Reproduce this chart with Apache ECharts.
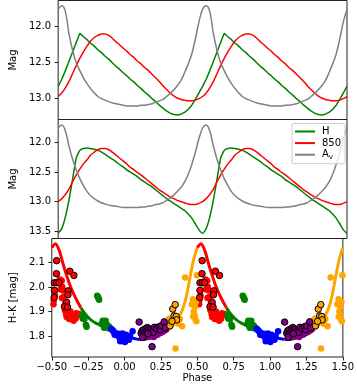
<!DOCTYPE html>
<html><head><meta charset="utf-8">
<script src="https://cdn.jsdelivr.net/npm/echarts@6/dist/echarts.min.js"></script>
<style>html,body{margin:0;padding:0;background:#fff}#c{width:357px;height:384px}</style>
</head><body><div id="c"></div>
<script>
// ---- one pulsation cycle, phase -0.5 .. 0.5 (plotted at phase and phase+1) ----
const phase = [-0.500,-0.475,-0.450,-0.425,-0.400,-0.375,-0.350,-0.325,-0.300,-0.275,-0.250,-0.225,-0.200,-0.175,-0.150,-0.125,-0.100,-0.075,-0.050,-0.025,0.000,0.025,0.050,0.075,0.100,0.125,0.150,0.175,0.200,0.225,0.250,0.275,0.300,0.325,0.350,0.375,0.400,0.425,0.450,0.475,0.500];

// top panel
const hTop    = [12.83,12.73,12.61,12.48,12.35,12.22,12.09,12.14,12.18,12.23,12.27,12.32,12.36,12.41,12.45,12.50,12.55,12.59,12.64,12.68,12.73,12.77,12.82,12.86,12.91,12.95,13.00,13.04,13.09,13.13,13.17,13.20,13.22,13.225,13.215,13.19,13.15,13.09,13.01,12.92,12.83];
const r850Top = [12.97,12.92,12.85,12.76,12.65,12.54,12.44,12.35,12.27,12.20,12.15,12.12,12.10,12.10,12.12,12.16,12.21,12.25,12.30,12.34,12.39,12.43,12.48,12.52,12.57,12.61,12.66,12.71,12.76,12.82,12.87,12.92,12.96,12.99,13.01,13.02,13.03,13.03,13.02,13.00,12.97];
const avTop   = [11.76,11.71,11.79,12.10,12.33,12.50,12.61,12.71,12.79,12.86,12.92,12.97,13.00,13.02,13.04,13.06,13.07,13.08,13.09,13.10,13.10,13.10,13.10,13.09,13.09,13.08,13.07,13.05,13.03,13.01,12.97,12.93,12.88,12.82,12.75,12.64,12.52,12.38,12.17,11.93,11.76];

// middle panel
const hMid    = [13.54,13.46,13.26,12.97,12.62,12.26,12.13,12.10,12.09,12.10,12.11,12.13,12.16,12.20,12.24,12.28,12.32,12.37,12.41,12.46,12.50,12.54,12.58,12.63,12.67,12.71,12.75,12.80,12.85,12.90,12.95,12.99,13.03,13.07,13.11,13.15,13.21,13.28,13.38,13.48,13.54];
const r850Mid = [13.00,12.95,12.88,12.79,12.66,12.55,12.45,12.36,12.29,12.21,12.16,12.12,12.10,12.10,12.12,12.16,12.21,12.26,12.31,12.36,12.42,12.46,12.51,12.55,12.60,12.65,12.70,12.75,12.80,12.84,12.88,12.92,12.95,12.98,13.00,13.02,13.04,13.05,13.05,13.03,13.00];
const avMid   = [11.75,11.70,11.80,12.06,12.28,12.46,12.61,12.73,12.83,12.90,12.95,12.99,13.02,13.04,13.06,13.07,13.08,13.09,13.10,13.10,13.10,13.10,13.10,13.09,13.09,13.08,13.07,13.05,13.04,13.02,12.98,12.94,12.89,12.83,12.76,12.67,12.54,12.37,12.16,11.93,11.75];

// bottom panel model curve H-K
const hkCurve = [2.160,2.176,2.150,2.099,2.050,2.007,1.972,1.942,1.915,1.893,1.876,1.863,1.854,1.847,1.839,1.830,1.822,1.815,1.808,1.803,1.799,1.795,1.792,1.789,1.786,1.786,1.788,1.791,1.794,1.799,1.806,1.814,1.824,1.838,1.856,1.880,1.910,1.962,2.040,2.112,2.160];
// colour segments of the curve: [first index, last index, colour]
const hkSegStart = [0, 8, 16, 24, 32];
const hkSegEnd   = [8, 16, 24, 32, 40];
const hkSegColor = ['#ff0000', '#008000', '#0000ff', '#800080', '#ffa500'];

// observed H-K points (phase, value), one cycle
const redPts = [[-0.488,1.930],[-0.487,1.945],[-0.478,1.965],[-0.445,2.030],[-0.432,2.025],[-0.428,2.000],[-0.420,1.985],[-0.418,1.960],[-0.410,1.905],[-0.402,1.890],[-0.398,1.878],[-0.385,1.895],[-0.372,1.900],[-0.368,1.884],[-0.360,1.872],[-0.350,1.862],[-0.345,1.880],[-0.332,1.893],[-0.322,1.886],[-0.312,1.890],[-0.440,1.990],[-0.430,1.955],[-0.406,1.935],[-0.380,1.870],[-0.336,1.872]];
const redEdgePts = [[-0.467,2.107],[-0.468,2.054],[-0.482,2.017],[-0.466,2.017],[-0.451,2.017],[-0.482,1.986],[-0.484,1.957],[-0.376,2.064],[-0.348,2.047],[-0.387,1.984],[-0.389,1.968],[-0.398,1.937],[-0.413,1.920],[-0.392,1.918]];
const greenPts = [[-0.292,1.885],[-0.283,1.878],[-0.276,1.870],[-0.288,1.872],[-0.266,1.846],[-0.261,1.838],[-0.188,1.964],[-0.182,1.958],[-0.175,1.948],[-0.178,1.952],[-0.156,1.850],[-0.150,1.862],[-0.146,1.845],[-0.141,1.856],[-0.136,1.840],[-0.131,1.852],[-0.126,1.838],[-0.121,1.846],[-0.116,1.833],[-0.111,1.841],[-0.106,1.836],[-0.140,1.834],[-0.130,1.862]];
const bluePts = [[-0.092,1.830],[-0.082,1.824],[-0.074,1.818],[-0.062,1.812],[-0.052,1.803],[-0.042,1.810],[-0.036,1.795],[-0.030,1.779],[-0.020,1.786],[-0.010,1.800],[0.000,1.795],[0.002,1.776],[0.010,1.806],[0.020,1.790],[0.038,1.800],[0.055,1.820],[-0.015,1.811],[0.030,1.785],[-0.005,1.788],[-0.068,1.806]];
const purplePts = [[0.150,1.800],[0.180,1.801],[0.210,1.810],[0.240,1.815],[0.262,1.820],[0.200,1.796],[0.170,1.805],[0.286,1.830],[0.225,1.805],[0.138,1.798]];
const purpleEdgePts = [[0.100,1.857],[0.114,1.812],[0.121,1.822],[0.130,1.826],[0.140,1.815],[0.146,1.831],[0.156,1.835],[0.166,1.830],[0.176,1.826],[0.186,1.821],[0.196,1.815],[0.205,1.836],[0.220,1.831],[0.236,1.838],[0.246,1.826],[0.252,1.842],[0.272,1.858],[0.280,1.833],[0.189,1.757],[0.128,1.802],[0.160,1.810],[0.124,1.795]];
const orangePts = [[0.306,1.871],[0.350,1.750],[0.416,2.038],[0.395,1.840],[0.380,1.870],[0.370,1.850],[0.462,1.930],[0.470,1.950],[0.476,1.900],[0.481,1.885],[0.486,1.870],[0.490,1.940],[0.497,2.048],[0.483,1.920],[0.472,1.880],[0.493,1.860]];
const orangeEdgePts = [[0.331,1.910],[0.348,1.928],[0.340,1.882],[0.355,1.880],[0.358,1.866],[0.312,1.842],[0.326,1.860]];

// axis ticks
const magTicksTop = [12.0, 12.5, 13.0];
const magTicksMid = [12.0, 12.5, 13.0, 13.5];
const hkTicks = [1.8, 1.9, 2.0, 2.1];
const seriesNames = ['H', '850', 'Av'];

// ---------------------------------------------------------------
const cycles = [0, 1];
const FONT = 'DejaVu Sans';
function curveData(vals) {
  const out = [];
  cycles.forEach(c => { for (let i = 0; i < phase.length; i++) out.push([phase[i] + c, vals[i]]); });
  return out;
}
function segData(vals, a, b, c) {
  const out = [];
  for (let i = a; i <= b; i++) out.push([phase[i] + c, vals[i]]);
  return out;
}
function ptsData(pts) {
  const out = [];
  [-1, 0, 1].forEach(c => pts.forEach(p => { const x = p[0] + c; if (x >= -0.52 && x <= 1.52) out.push([x, p[1]]); }));
  return out;
}
function lineSeries(name, data, color, gi, width, smooth) {
  return {type: 'line', name: name, xAxisIndex: gi, yAxisIndex: gi, data: data, showSymbol: false, symbol: 'none',
          smooth: smooth || false,
          lineStyle: {color: color, width: width}, itemStyle: {color: color}, animation: false, z: 2};
}
function scatterSeries(data, color, edge) {
  return {type: 'scatter', xAxisIndex: 2, yAxisIndex: 2, data: data, symbolSize: 6.5, animation: false, z: 3,
          itemStyle: {color: color, opacity: 1, borderColor: edge ? '#000' : color, borderWidth: edge ? 1 : 0}};
}
const xFmt = v => (v < 0 ? '\u2212' : '') + Math.abs(v).toFixed(2);
const gridBase = {left: 39.3, right: 10, show: true, borderColor: '#222', borderWidth: 1, backgroundColor: '#fff'};
function xAx(gi, showLabels) {
  return {type: 'value', gridIndex: gi, min: -0.5, max: 1.5, interval: 0.25,
    axisLine: {show: false, onZero: false}, splitLine: {show: false},
    axisTick: {show: showLabels, length: 3.5, lineStyle: {color: '#222', width: 1}},
    axisLabel: {show: showLabels, formatter: xFmt, fontFamily: FONT, fontSize: 10, color: '#000', margin: 5, showMinLabel: true, showMaxLabel: true, hideOverlap: false},
    name: showLabels ? 'Phase' : '', nameLocation: 'middle', nameGap: 16,
    nameTextStyle: {fontFamily: FONT, fontSize: 10, color: '#000'}};
}
function yAx(gi, min, max, inverse, ticks, dec, name) {
  return {type: 'value', gridIndex: gi, min: min, max: max, inverse: inverse,
    axisLine: {show: false, onZero: false}, splitLine: {show: false},
    axisTick: {show: true, length: 3.5, customValues: ticks, lineStyle: {color: '#222', width: 1}},
    axisLabel: {customValues: ticks, formatter: v => v.toFixed(dec), fontFamily: FONT, fontSize: 10, color: '#000', margin: 7},
    name: name, nameLocation: 'middle', nameRotate: 90, nameGap: 33,
    nameTextStyle: {fontFamily: FONT, fontSize: 10, color: '#000'}};
}

const series = [];
series.push(lineSeries('H', curveData(hTop), '#008000', 0, 1.5, false));
series.push(lineSeries('850', curveData(r850Top), '#ff0000', 0, 1.5, 0.3));
series.push(lineSeries('Av', curveData(avTop), '#808080', 0, 1.5, 0.35));
series.push(lineSeries('H', curveData(hMid), '#008000', 1, 1.5, 0.15));
series.push(lineSeries('850', curveData(r850Mid), '#ff0000', 1, 1.5, 0.3));
series.push(lineSeries('Av', curveData(avMid), '#808080', 1, 1.5, 0.35));

series.push(scatterSeries(ptsData(redPts), '#ff0000', false));
series.push(scatterSeries(ptsData(greenPts), '#008000', false));
series.push(scatterSeries(ptsData(bluePts), '#0000ff', false));
series.push(scatterSeries(ptsData(purplePts), '#800080', false));
series.push(scatterSeries(ptsData(orangePts), '#ffa500', false));
series.push(scatterSeries(ptsData(redEdgePts), '#ff0000', true));
series.push(scatterSeries(ptsData(purpleEdgePts), '#800080', true));
series.push(scatterSeries(ptsData(orangeEdgePts), '#ffa500', true));

cycles.forEach(c => {
  hkSegStart.forEach((a, k) => {
    series.push(lineSeries('hk' + k + '_' + c, segData(hkCurve, a, hkSegEnd[k], c), hkSegColor[k], 2, 3, 0.3));
  });
});

const chart = echarts.init(document.getElementById('c'), null, {renderer: 'canvas'});
chart.setOption({
  animation: false,
  backgroundColor: '#fff',
  grid: [
    Object.assign({top: 0.5, height: 119}, gridBase),
    Object.assign({top: 119.5, height: 119}, gridBase),
    Object.assign({top: 238.5, height: 120.5}, gridBase)
  ],
  xAxis: [xAx(0, false), xAx(1, false), xAx(2, true)],
  yAxis: [
    yAx(0, 11.636, 13.289, true, magTicksTop, 1, 'Mag'),
    yAx(1, 11.606, 13.627, true, magTicksMid, 1, 'Mag'),
    yAx(2, 1.715, 2.197, false, hkTicks, 1, 'H-K [mag]')
  ],
  legend: {
    data: seriesNames.map(n => ({name: n, icon: 'rect'})),
    orient: 'vertical', left: 292, top: 123.5,
    itemWidth: 20, itemHeight: 2, itemGap: 1.6,
    padding: [3, 4, 3, 3],
    backgroundColor: 'rgba(255,255,255,0.8)', borderColor: '#cccccc', borderWidth: 1, borderRadius: 2,
    selectedMode: false,
    formatter: n => n === 'Av' ? '{a|A}{s|v}' : '{a|' + n + '}',
    textStyle: {fontFamily: FONT, fontSize: 10, color: '#000', padding: [0, 0, 0, 2],
      rich: {a: {fontFamily: FONT, fontSize: 10, lineHeight: 12, color: '#000'},
             s: {fontFamily: FONT, fontSize: 7, lineHeight: 7, verticalAlign: 'bottom', color: '#000'}}}
  },
  series: series
});
</script>
</body></html>
